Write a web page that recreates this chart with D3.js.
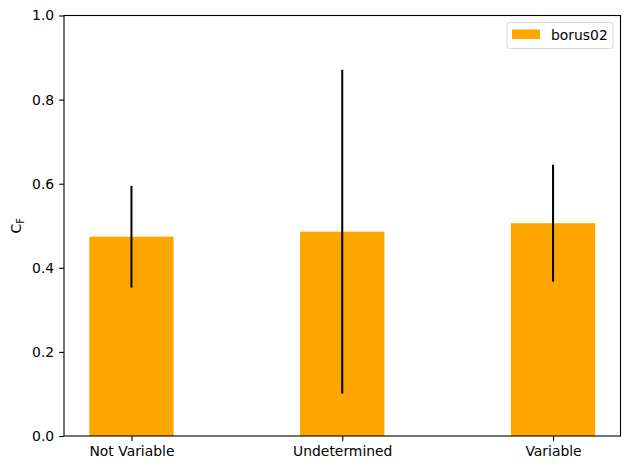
<!DOCTYPE html>
<html>
<head>
<meta charset="utf-8">
<script src="https://cdn.jsdelivr.net/npm/d3@7"></script>
<style>
  body { margin: 0; background: #fff; }
  svg { font-family: "DejaVu Sans", sans-serif; }
</style>
</head>
<body>
<svg id="chart"></svg>
<script>
// data
const categories = ["Not Variable", "Undetermined", "Variable"];
const values = [0.474, 0.486, 0.506];
const errors = [0.121, 0.385, 0.139];
const yTicks = [0, 0.2, 0.4, 0.6, 0.8, 1.0];
const seriesName = "borus02";

const width = 630, height = 470;
const margin = { top: 15.5, right: 9.5, bottom: 34, left: 64 };
const innerW = width - margin.left - margin.right;
const innerH = height - margin.top - margin.bottom;
const fontSize = 13.9;
const barColor = "#ffa500";

const svg = d3.select("#chart")
    .attr("width", width)
    .attr("height", height);

const chart = svg.append("g")
    .attr("transform", `translate(${margin.left},${margin.top})`);

// categorical positions 0..n-1, bar width 0.4, 5% margins like matplotlib
const barW = 0.4;
const lo = -barW / 2, hi = categories.length - 1 + barW / 2;
const pad = (hi - lo) * 0.05;
const xScale = d3.scaleLinear()
    .domain([lo - pad, hi + pad])
    .range([0, innerW]);

const yScale = d3.scaleLinear()
    .domain([0, 1])
    .range([innerH, 0]);

const data = categories.map((c, i) => ({ cat: c, i: i, v: values[i], e: errors[i] }));

chart.selectAll(".bar")
    .data(data)
    .join("rect")
    .attr("class", "bar")
    .attr("x", d => xScale(d.i - barW / 2))
    .attr("width", d => xScale(d.i + barW / 2) - xScale(d.i - barW / 2))
    .attr("y", d => yScale(d.v))
    .attr("height", d => innerH - yScale(d.v))
    .style("fill", barColor);

chart.selectAll(".err")
    .data(data)
    .join("line")
    .attr("class", "err")
    .attr("x1", d => xScale(d.i))
    .attr("x2", d => xScale(d.i))
    .attr("y1", d => yScale(d.v - d.e))
    .attr("y2", d => yScale(d.v + d.e))
    .attr("stroke", "#000")
    .attr("stroke-width", 2);

const xAxis = d3.axisBottom(xScale)
    .tickValues(data.map(d => d.i))
    .tickFormat(i => categories[i])
    .tickSizeInner(4.9)
    .tickSizeOuter(0)
    .tickPadding(4.9);

const yAxis = d3.axisLeft(yScale)
    .tickValues(yTicks)
    .tickFormat(d3.format(".1f"))
    .tickSizeInner(4.9)
    .tickSizeOuter(0)
    .tickPadding(4.9);

const xAxisG = chart.append("g")
    .attr("transform", `translate(0,${innerH})`)
    .call(xAxis);
const yAxisG = chart.append("g").call(yAxis);

[xAxisG, yAxisG].forEach(g => {
    g.select(".domain").remove();
    g.selectAll(".tick line").attr("stroke", "#000").attr("stroke-width", 1.1);
    g.selectAll(".tick text")
        .attr("fill", "#000")
        .style("font-size", fontSize + "px")
        .style("font-family", "DejaVu Sans");
});

// frame
chart.append("rect")
    .attr("width", innerW)
    .attr("height", innerH)
    .attr("fill", "none")
    .attr("stroke", "#000")
    .attr("stroke-width", 1.1);

// y label C_F
const yl = svg.append("text")
    .attr("transform", `translate(21,${margin.top + innerH / 2}) rotate(-90)`)
    .attr("text-anchor", "middle")
    .style("font-size", fontSize + "px");
yl.append("tspan").text("C");
yl.append("tspan").attr("dy", 3).style("font-size", "9.7px").text("F");

// legend
const legend = svg.append("g")
    .attr("transform", `translate(${margin.left + innerW - 113.5},${margin.top + 7})`);
legend.append("rect")
    .attr("width", 106)
    .attr("height", 26)
    .attr("rx", 3)
    .attr("fill", "#fff")
    .attr("fill-opacity", 0.8)
    .attr("stroke", "#d6d6d6")
    .attr("stroke-width", 1);
legend.append("rect")
    .attr("x", 5)
    .attr("y", 7)
    .attr("width", 28)
    .attr("height", 9.5)
    .attr("fill", barColor);
legend.append("text")
    .attr("x", 44)
    .attr("y", 17.5)
    .style("font-size", fontSize + "px")
    .text(seriesName);
</script>
</body>
</html>
